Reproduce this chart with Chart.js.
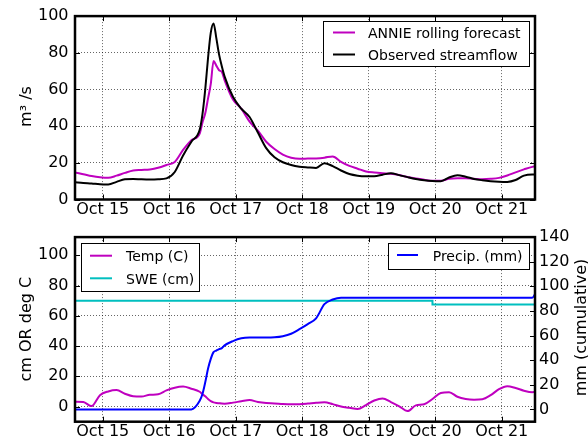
<!DOCTYPE html>
<html>
<head>
<meta charset="utf-8">
<script src="https://cdn.jsdelivr.net/npm/chart.js@4.4.1/dist/chart.umd.min.js"></script>
<style>
  html, body { margin: 0; padding: 0; background: #fff; }
  #wrap { position: relative; width: 588px; height: 443px; }
  canvas { position: absolute; left: 0; }
  #flow { top: 0; }
  #met { top: 221px; }
</style>
</head>
<body>
<div id="wrap">
  <canvas id="flow" width="588" height="221"></canvas>
  <canvas id="met" width="588" height="222"></canvas>
</div>
<script>
// Hours since Oct 15 00:00 (denser sampling around the storm peak)
const hours = [-10,-7,-4,-1,2,5,8,11,14,17,20,23,26,29,32,35,
  36,37,38,39,40,41,42,43,
  44,47,50,53,56,59,62,65,68,71,74,77,80,83,86,89,92,95,98,101,104,107,110,113,116,119,
  122,125,128,131,134,137,140,143,146,149,152,155,156];

const dayTicks = [0, 24, 48, 72, 96, 120, 144];
const dayLabels = ['Oct 15', 'Oct 16', 'Oct 17', 'Oct 18', 'Oct 19', 'Oct 20', 'Oct 21'];

// Streamflow, m3/s
const annieForecast = [14.7,13.8,12.8,12.1,11.8,13.0,14.5,15.8,16.1,16.4,17.3,18.8,20.5,27,32.3,36,
  42,47,55,63,75.5,73,70.5,69.5,
  65,54.5,49.5,42.5,37.5,31.5,27.5,24.5,22.8,22.2,22.3,22.4,22.8,23.5,20.5,18.3,16.8,15.3,14.7,14.3,14.0,13.3,12.3,11.4,10.8,10.2,
  10.2,11.3,11.6,11.6,11.3,11.1,11.3,11.8,13.1,14.8,16.4,17.8,18.0];
const observedFlow = [9.4,9.0,8.7,8.3,8.2,9.6,11.0,11.2,11.0,10.9,11.0,11.5,15,24,31.5,38,
  46.5,60,77,91,96,88,79,72.5,
  67,56,49.5,45,36.5,28,23,20.3,18.8,17.9,17.5,17.2,19.8,18.2,15.8,13.9,13.0,12.7,12.7,13.5,14.3,13.3,12.2,11.2,10.5,10.1,
  10.0,12.0,13.2,12.4,11.2,10.5,10.0,9.7,9.6,10.6,13.0,13.6,13.6];

// Meteorology
const tempC = [3.2,3.0,0.3,7.5,10.0,10.9,8.5,6.8,6.6,7.8,8.1,10.7,12.5,13.2,11.8,9.8,
  8.2,6.8,5.0,3.6,2.8,2.4,2.2,2.0,
  1.9,2.6,3.5,4.3,3.0,2.3,2.1,1.7,1.5,1.6,2.0,2.5,2.8,1.6,0.0,-0.8,-1.6,1.0,4.0,5.4,3.0,0.2,-3.0,0.8,1.5,5.0,
  9.0,9.5,6.5,5.0,4.5,4.8,7.5,11.5,13.5,12.3,10.5,9.5,9.6];
const sweCm = [70,70,70,70,70,70,70,70,70,70,70,70,70,70,70,70,
  70,70,70,70,70,70,70,70,
  70,70,70,70,70,70,70,70,70,70,70,70,70,70,70,70,70,70,70,70,70,70,70,70,70,67.5,
  67.5,67.5,67.5,67.5,67.5,67.5,67.5,67.5,67.5,67.5,67.5,67.5,67.5];
const precipMm = [0,0,0,0,0,0,0,0,0,0,0,0,0,0,0,7,
  12.5,22,33,41,46.5,47.8,49,49.8,
  52,55.5,57.8,58.4,58.4,58.4,58.6,59.5,61.5,65.2,69.3,74,85.5,89.3,90.8,90.8,90.8,90.8,90.8,90.8,90.8,90.8,90.8,90.8,90.8,90.8,
  90.8,90.8,90.8,90.8,90.8,90.8,90.8,90.8,90.8,90.8,90.8,90.8,93.5];

const flowTicks = [0, 20, 40, 60, 80, 100];
const metTicks = [0, 20, 40, 60, 80, 100];
const precipTicks = [0, 20, 40, 60, 80, 100, 120, 140];

Chart.defaults.font.family = '"DejaVu Sans", sans-serif';
Chart.defaults.font.size = 16;
Chart.defaults.color = '#000';

const pts = series => hours.map((h, i) => ({ x: h, y: series[i] }));
const setTicks = list => axis => { axis.ticks = list.map(v => ({ value: v })); };
const gridStyle = { color: 'rgba(0,0,0,0.6)', lineWidth: 1, drawTicks: false };
const dotted = { display: false, dash: [1, 2] };

function timeAxis(height) {
  return {
    type: 'linear', min: -10, max: 156,
    afterBuildTicks: setTicks(dayTicks),
    ticks: { autoSkip: false, maxRotation: 0, minRotation: 0, padding: 1,
             callback: (v, i) => dayLabels[i] },
    grid: gridStyle, border: dotted,
    afterFit: s => { s.height = height; }
  };
}

function lineSet(label, data, color, extra) {
  return Object.assign({
    label, data: pts(data), borderColor: color, backgroundColor: color,
    borderWidth: 2, pointRadius: 0, fill: false, cubicInterpolationMode: 'monotone'
  }, extra || {});
}

// Frame, inward tick marks, boxed legend and rotated axis titles
function decorations(cfg) {
  return {
    id: 'decorations',
    afterDatasetsDraw(chart) {
      const ctx = chart.ctx, a = chart.chartArea;
      const seg = (x1, y1, x2, y2) => { ctx.beginPath(); ctx.moveTo(x1, y1); ctx.lineTo(x2, y2); ctx.stroke(); };
      ctx.save();
      ctx.strokeStyle = '#000';
      ctx.lineWidth = 1;
      const T = 5;
      const xs = chart.scales.x;
      xs.ticks.forEach(t => {
        const p = Math.round(xs.getPixelForValue(t.value)) + 0.5;
        seg(p, a.bottom, p, a.bottom - T);
        seg(p, a.top, p, a.top + T);
      });
      cfg.sideTicks.forEach(([id, sides]) => {
        const s = chart.scales[id];
        s.ticks.forEach(t => {
          const p = Math.round(s.getPixelForValue(t.value)) + 0.5;
          if (sides.includes('l')) seg(a.left, p, a.left + T, p);
          if (sides.includes('r')) seg(a.right, p, a.right - T, p);
        });
      });
      ctx.lineWidth = 2.5;
      ctx.strokeRect(a.left, a.top, a.right - a.left, a.bottom - a.top);

      ctx.font = '14px "DejaVu Sans", sans-serif';
      cfg.legends.forEach(lg => {
        const [bx, by, bw, bh] = lg.box;
        ctx.fillStyle = '#fff';
        ctx.fillRect(bx, by, bw, bh);
        ctx.lineWidth = 1;
        ctx.strokeStyle = '#000';
        ctx.strokeRect(bx + 0.5, by + 0.5, bw, bh);
        lg.rows.forEach((row, k) => {
          const ds = chart.data.datasets[row];
          const cy = lg.lineY[k];
          ctx.strokeStyle = ds.borderColor;
          ctx.lineWidth = 2;
          seg(lg.lineX[0], cy, lg.lineX[1], cy);
          ctx.fillStyle = '#000';
          ctx.textAlign = 'left';
          ctx.textBaseline = 'alphabetic';
          ctx.fillText(ds.label, lg.textX, lg.baseY[k]);
        });
      });

      ctx.font = '16px "DejaVu Sans", sans-serif';
      cfg.titles.forEach(t => {
        ctx.save();
        ctx.translate(t.x, t.y);
        ctx.rotate(-Math.PI / 2);
        ctx.fillStyle = '#000';
        ctx.textAlign = 'center';
        ctx.textBaseline = 'alphabetic';
        ctx.fillText(t.text, 0, 0);
        ctx.restore();
      });
      ctx.restore();
    }
  };
}

const common = {
  responsive: false, animation: false, devicePixelRatio: 1,
  plugins: { legend: { display: false }, tooltip: { enabled: false } }
};

// Streamflow panel
new Chart(document.getElementById('flow'), {
  type: 'line',
  data: {
    datasets: [
      lineSet('ANNIE rolling forecast', annieForecast, '#bf00bf', { order: 1 }),
      lineSet('Observed streamflow', observedFlow, '#000000', { order: 0 })
    ]
  },
  options: Object.assign({}, common, {
    layout: { padding: { top: 14, right: 53, left: 0, bottom: 0 } },
    scales: {
      x: timeAxis(21.5),
      y: {
        min: 0, max: 100,
        afterBuildTicks: setTicks(flowTicks),
        ticks: { padding: 6.5 },
        grid: gridStyle, border: dotted,
        afterFit: s => { s.width = 75; }
      }
    }
  }),
  plugins: [decorations({
    sideTicks: [['y', 'lr']],
    legends: [{ box: [323, 21, 206, 45], lineX: [333, 355], lineY: [32.5, 54.5],
                textX: 368, baseY: [37.5, 59.5], rows: [0, 1] }],
    titles: [{ text: 'm³ /s', x: 30.5, y: 106.5 }]
  })]
});

// Temperature / SWE / precipitation panel
new Chart(document.getElementById('met'), {
  type: 'line',
  data: {
    datasets: [
      lineSet('Temp (C)', tempC, '#bf00bf', { yAxisID: 'y', order: 1 }),
      lineSet('SWE (cm)', sweCm, '#00bfbf', { yAxisID: 'y', order: 2, stepped: true, cubicInterpolationMode: 'default' }),
      lineSet('Precip. (mm)', precipMm, '#0000ff', { yAxisID: 'yr', order: 0 })
    ]
  },
  options: Object.assign({}, common, {
    layout: { padding: { top: 15.7, right: 0, left: 0, bottom: 0 } },
    scales: {
      x: timeAxis(21.3),
      y: {
        position: 'left', min: -10, max: 112,
        afterBuildTicks: setTicks(metTicks),
        ticks: { padding: 6.5 },
        grid: gridStyle, border: dotted,
        afterFit: s => { s.width = 75; }
      },
      yr: {
        position: 'right', min: -10, max: 140,
        afterBuildTicks: setTicks(precipTicks),
        ticks: { padding: 4 },
        grid: { display: false, drawTicks: false }, border: { display: false },
        afterFit: s => { s.width = 53; }
      }
    }
  }),
  plugins: [decorations({
    sideTicks: [['y', 'l'], ['yr', 'r']],
    legends: [
      { box: [81, 22, 118, 48], lineX: [90, 112], lineY: [34.7, 57.3],
        textX: 126, baseY: [39.5, 62.5], rows: [0, 1] },
      { box: [388, 22, 141, 26], lineX: [397, 418], lineY: [34, 34],
        textX: 432.7, baseY: [39.5], rows: [2] }
    ],
    titles: [
      { text: 'cm OR deg C', x: 30.5, y: 108.2 },
      { text: 'mm (cumulative)', x: 586, y: 106.5 }
    ]
  })]
});
</script>
</body>
</html>
